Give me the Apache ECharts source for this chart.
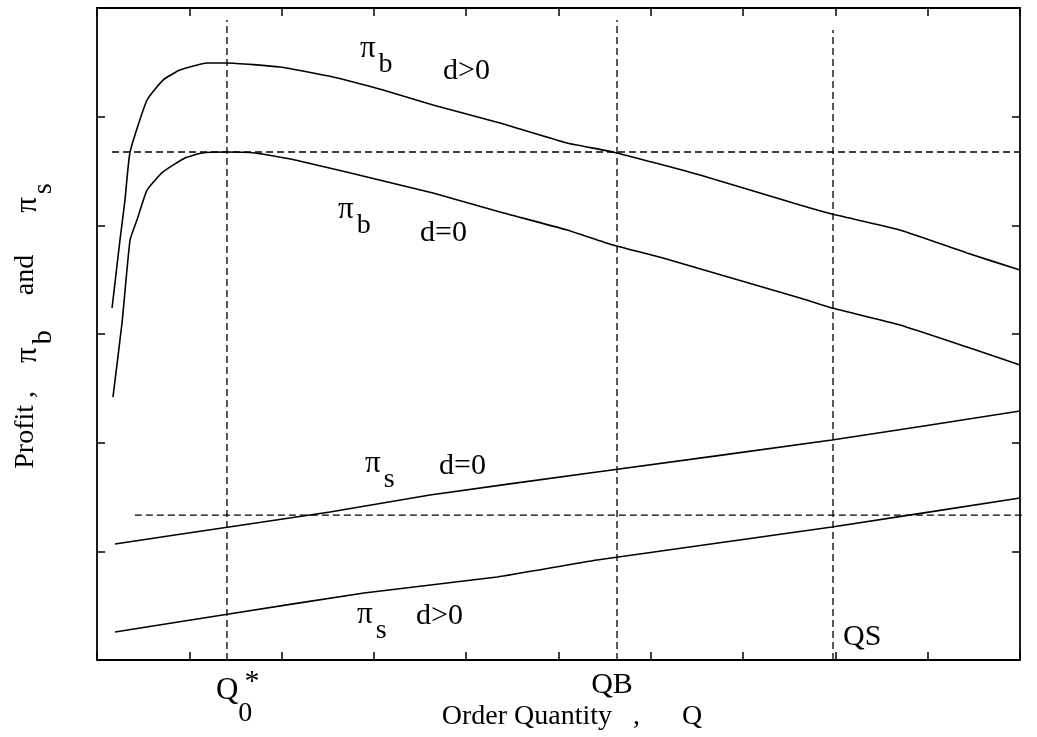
<!DOCTYPE html>
<html><head><meta charset="utf-8">
<script src="https://cdn.jsdelivr.net/npm/echarts@6/dist/echarts.min.js"></script>
<style>html,body{margin:0;padding:0;background:#fff}#c{width:1037px;height:737px}</style>
</head><body><div id="c"></div>
<script>
// Buyer's profit, d>0
const qPiBPos = [0.163,0.249,0.303,0.358,0.542,0.715,0.899,1.192,1.408,1.983,2.557,3.099,3.640,4.366,5.092,5.590,6.533,7.616,7.963,8.700,9.426,10.0];
const piBPos  = [3.239,3.865,4.233,4.675,5.153,5.337,5.429,5.494,5.494,5.457,5.365,5.245,5.107,4.942,4.758,4.675,4.463,4.187,4.104,3.957,3.745,3.589];
// Buyer's profit, d=0
const qPiB0 = [0.173,0.271,0.358,0.433,0.542,0.715,0.953,1.138,1.387,1.712,2.145,2.925,3.640,4.366,5.092,5.590,6.132,7.616,7.963,8.700,9.426,10.0];
const piB0  = [2.420,3.101,3.865,4.049,4.325,4.491,4.620,4.665,4.675,4.665,4.601,4.445,4.297,4.123,3.957,3.819,3.699,3.331,3.239,3.083,2.880,2.715];
// Supplier's profit, d=0
const qPiS0 = [0.195,1.430,2.524,3.608,5.417,7.963,10.0];
const piS0  = [1.067,1.224,1.362,1.518,1.730,2.024,2.291];
// Supplier's profit, d>0
const qPiSPos = [0.195,1.430,2.893,4.334,5.417,7.963,10.0];
const piSPos  = [0.258,0.423,0.617,0.764,0.920,1.224,1.491];
// reference quantities and levels
const qStar = 1.408, qB = 5.634, qS = 7.974;
const levelHigh = 4.675, levelLow = 1.334;
const hLineHighX = [0.163, 10.0];
const hLineLowX = [0.41, 10.18];
const vTopStar = 5.889, vTopB = 5.889, vTopS = 5.797;
// tick grid
const xMin = 0, xMax = 10, xStep = 1;
const yMin = 0, yMax = 6, yStep = 1;

// annotations (text and anchor in data units)
const annoText = [
  '{p|π}{sub|b}', 'd>0',
  '{p|π}{sub|b}', 'd=0',
  '{p|π}{sub|s}', 'd=0',
  '{p|π}{sub|s}', 'd>0',
  'QS', 'QB', '{p|Q}{sub0|0}', '*'
];
const annoAt = [
  [2.849,5.558],[3.749,5.420],
  [2.611,4.077],[3.499,3.929],
  [2.904,1.739],[3.705,1.785],
  [2.817,0.350],[3.456,0.405],
  [8.082,0.212],[5.580,-0.230],[1.289,-0.380],[1.680,-0.200]
];
const annoAlign = ['left','left','left','left','left','left','left','left','left','center','left','center'];

const zip = (xs, ys) => xs.map((x, i) => [x, ys[i]]);
const FONT = '"Liberation Serif", "DejaVu Serif", serif';
const INK = '#000';
const rich = {
  p: {fontFamily: FONT, fontSize: 31, color: INK, lineHeight: 32, verticalAlign: 'top'},
  t: {fontFamily: FONT, fontSize: 28, color: INK, lineHeight: 32, verticalAlign: 'top'},
  sub: {fontFamily: FONT, fontSize: 28, color: INK, lineHeight: 46, verticalAlign: 'bottom', padding: [0, 0, 0, 3]},
  sub0: {fontFamily: FONT, fontSize: 28, color: INK, lineHeight: 52, verticalAlign: 'bottom'}
};

const curve = (name, xs, ys) => ({
  name, type: 'line', data: zip(xs, ys), showSymbol: false, symbol: 'none',
  smooth: 0.15, lineStyle: {color: INK, width: 1.6}, silent: true, z: 3
});
const dashed = (name, pts) => ({
  name, type: 'line', data: pts, showSymbol: false, symbol: 'none', clip: false,
  lineStyle: {color: INK, width: 1.3, type: [7, 4]}, silent: true, z: 2
});

const axisCommon = {
  type: 'value', axisLine: {show: true, onZero: false, lineStyle: {color: INK, width: 1.8}},
  axisTick: {show: true, inside: true, length: 8, lineStyle: {color: INK, width: 1.5}},
  axisLabel: {show: false}, splitLine: {show: false}
};

const chart = echarts.init(document.getElementById('c'), null, {renderer: 'canvas'});
chart.setOption({
  animation: false,
  backgroundColor: '#fff',
  grid: {left: 97, right: 17, top: 8, bottom: 77, containLabel: false},
  xAxis: [
    Object.assign({}, axisCommon, {position: 'bottom', min: xMin, max: xMax, interval: xStep,
      name: 'Order Quantity   ,      Q', nameLocation: 'middle', nameGap: 43,
      nameTextStyle: {fontFamily: FONT, fontSize: 28, color: INK, padding: [0, 0, 0, 27]}}),
    Object.assign({}, axisCommon, {position: 'top', min: xMin, max: xMax, interval: xStep})
  ],
  yAxis: [
    Object.assign({}, axisCommon, {position: 'left', min: yMin, max: yMax, interval: yStep,
      name: '{t|Profit ,    }{p|π}{sub|b}{t|     and      }{p|π}{sub|s}', nameLocation: 'middle', nameGap: 39, nameRotate: 90,
      nameTextStyle: {rich: rich, padding: [0, 0, 0, 16]}}),
    Object.assign({}, axisCommon, {position: 'right', min: yMin, max: yMax, interval: yStep})
  ],
  series: [
    curve('πb d>0', qPiBPos, piBPos),
    curve('πb d=0', qPiB0, piB0),
    curve('πs d=0', qPiS0, piS0),
    curve('πs d>0', qPiSPos, piSPos),
    dashed('level high', [[hLineHighX[0], levelHigh], [hLineHighX[1], levelHigh]]),
    dashed('level low', [[hLineLowX[0], levelLow], [hLineLowX[1], levelLow]]),
    dashed('Q0*', [[qStar, yMin], [qStar, vTopStar]]),
    dashed('QB', [[qB, yMin], [qB, vTopB]]),
    dashed('QS', [[qS, yMin], [qS, vTopS]]),
    {
      name: 'labels', type: 'scatter', symbolSize: 0, clip: false, silent: true, z: 5,
      itemStyle: {opacity: 1},
      data: annoAt.map((p, i) => ({
        value: p,
        label: {
          show: true, formatter: annoText[i], position: annoAlign[i] === 'center' ? 'inside' : 'right',
          distance: 0, align: annoAlign[i], verticalAlign: 'middle', opacity: 1,
          fontFamily: FONT, fontSize: 30, color: INK, textBorderWidth: 0, rich: rich
        }
      }))
    }
  ]
});
</script></body></html>
